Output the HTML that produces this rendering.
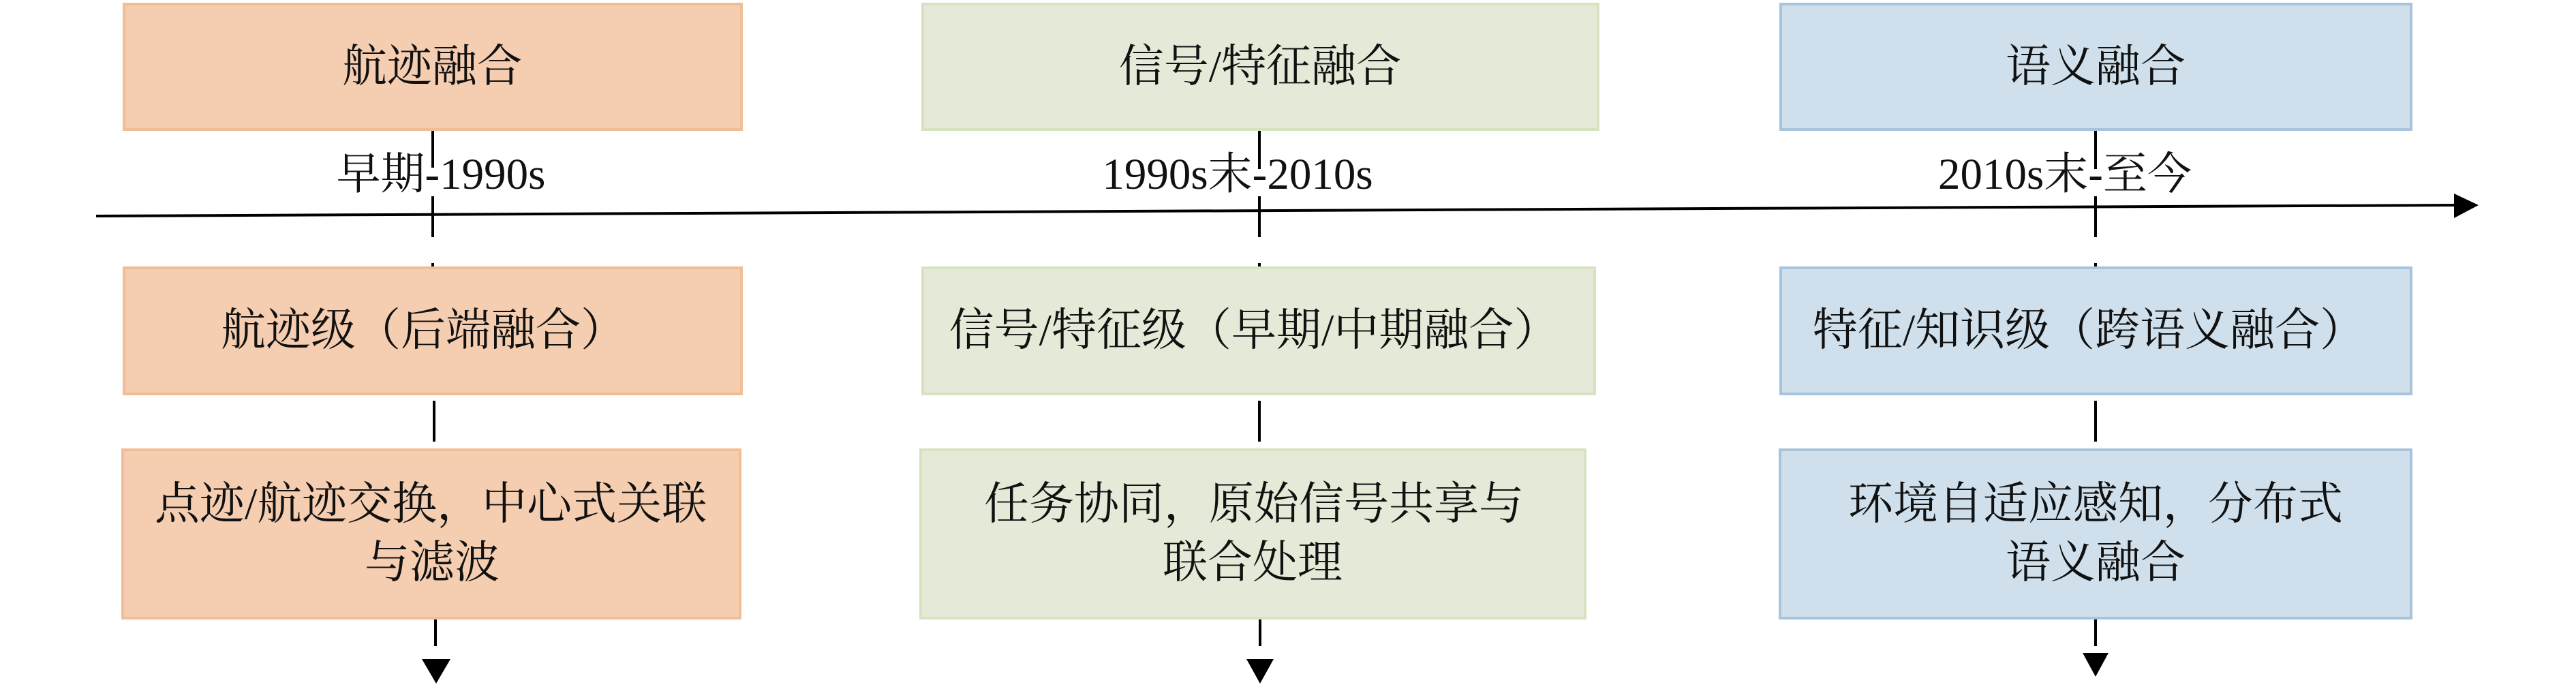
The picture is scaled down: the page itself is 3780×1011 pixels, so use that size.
<!DOCTYPE html>
<html><head><meta charset="utf-8"><style>
html,body{margin:0;padding:0;background:#fff;width:3780px;height:1011px;overflow:hidden}
text{font-family:"Liberation Serif","Noto Serif CJK SC",serif;fill:#111;text-anchor:middle;dominant-baseline:central}
</style></head><body>
<svg width="3780" height="1011" viewBox="0 0 3780 1011" xmlns="http://www.w3.org/2000/svg">
<line x1="141" y1="317" x2="3605" y2="301" stroke="#000" stroke-width="4"/>
<polygon points="3601,284 3637,301 3601,320" fill="#000"/>
<g stroke="#000" stroke-width="4">
<line x1="635" y1="192" x2="635" y2="246"/><line x1="635" y1="288" x2="635" y2="348"/><line x1="635" y1="386" x2="635" y2="391"/>
<line x1="637" y1="588" x2="637" y2="648"/><line x1="639" y1="909" x2="639" y2="948"/>
<line x1="1848" y1="192" x2="1848" y2="248"/><line x1="1848" y1="288" x2="1848" y2="348"/><line x1="1848" y1="386" x2="1848" y2="391"/>
<line x1="1848" y1="588" x2="1848" y2="648"/><line x1="1849" y1="909" x2="1849" y2="948"/>
<line x1="3075" y1="192" x2="3075" y2="248"/><line x1="3075" y1="288" x2="3075" y2="348"/><line x1="3075" y1="386" x2="3075" y2="391"/>
<line x1="3075" y1="588" x2="3075" y2="648"/><line x1="3075" y1="909" x2="3075" y2="948"/>
</g>
<polygon points="619,967 661,967 640,1003" fill="#000"/>
<polygon points="1829,967 1869,967 1849,1003" fill="#000"/>
<polygon points="3056,958 3094,958 3075,993" fill="#000"/>
<g stroke-width="4">
<rect x="182" y="6" width="906" height="184" fill="#f5cdb0" stroke="#f0bd95"/>
<rect x="182" y="393" width="906" height="185" fill="#f5cdb0" stroke="#f0bd95"/>
<rect x="180" y="660" width="906" height="247" fill="#f5cdb0" stroke="#f0bd95"/>
<rect x="1354" y="6" width="991" height="184" fill="#e4ead7" stroke="#d6e2c0"/>
<rect x="1354" y="393" width="986" height="185" fill="#e4ead7" stroke="#d6e2c0"/>
<rect x="1351" y="660" width="975" height="247" fill="#e4ead7" stroke="#d6e2c0"/>
<rect x="2613" y="6" width="925" height="184" fill="#cfe0ec" stroke="#a8c3dc"/>
<rect x="2613" y="393" width="925" height="185" fill="#cfe0ec" stroke="#a8c3dc"/>
<rect x="2612" y="660" width="926" height="247" fill="#cfe0ec" stroke="#a8c3dc"/>
</g>
<g font-size="65">
<text x="647" y="256">早期-1990s</text>
<text x="1816" y="256">1990s末-2010s</text>
<text x="3030" y="256">2010s末-至今</text>
</g>
<g font-size="66">
<text x="634" y="98">航迹融合</text>
<text x="1849" y="98">信号/特征融合</text>
<text x="3075" y="98">语义融合</text>
<text x="621" y="485">航迹级（后端融合）</text>
<text x="1840" y="485">信号/特征级（早期/中期融合）</text>
<text x="3065" y="485">特征/知识级（跨语义融合）</text>
<text x="632" y="740">点迹/航迹交换，中心式关联</text>
<text x="634" y="826">与滤波</text>
<text x="1840" y="740">任务协同，原始信号共享与</text>
<text x="1838" y="826">联合处理</text>
<text x="3075" y="740">环境自适应感知，分布式</text>
<text x="3075" y="826">语义融合</text>
</g>
</svg>
</body></html>
